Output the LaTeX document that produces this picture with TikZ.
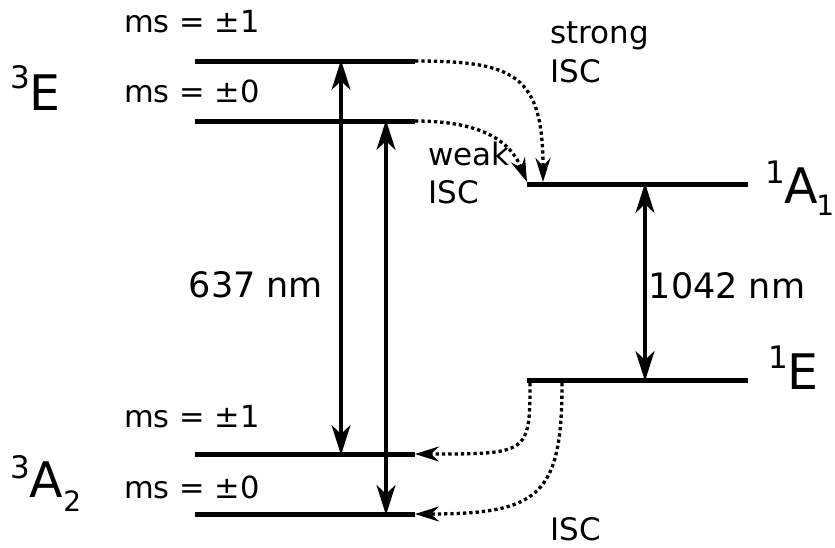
\documentclass[tikz,border=0pt]{standalone}
\usepackage{fontspec}
\setmainfont{DejaVu Sans}
\usetikzlibrary{arrows.meta}
\newcommand\supsz{\fontsize{31}{31}\selectfont}
\newcommand\subsz{\fontsize{28}{28}\selectfont}
\tikzset{
  level/.style={line width=5pt},
  trans/.style={line width=3.2pt,
    {Stealth[length=30pt,width=19pt,inset=9pt]}-{Stealth[length=30pt,width=19pt,inset=9pt]}},
  isc/.style={line width=3.3pt, dash pattern=on 3.3pt off 3pt,
    -{Stealth[length=24pt,width=15pt,inset=8pt]}},
  mslabel/.style={anchor=base west, inner sep=0pt, font=\fontsize{30.5}{36}\selectfont},
  nmlabel/.style={anchor=base, inner sep=0pt, font=\fontsize{35}{42}\selectfont},
  isclabel/.style={anchor=base west, inner sep=0pt, font=\fontsize{31}{36}\selectfont},
  term/.style={anchor=base west, inner sep=0pt, font=\fontsize{49}{55}\selectfont},
}
\begin{document}
\begin{tikzpicture}[x=1pt,y=-1pt]
\useasboundingbox (0,0) rectangle (835,547);
% level end points
\coordinate (e1L) at (195,61);  \coordinate (e1R) at (415,61);
\coordinate (e0L) at (195,121); \coordinate (e0R) at (415,121);
\coordinate (g1L) at (195,454); \coordinate (g1R) at (415,454);
\coordinate (g0L) at (195,514); \coordinate (g0R) at (415,514);
\coordinate (aL) at (527,184);  \coordinate (aR) at (748,184);
\coordinate (sL) at (527,380);  \coordinate (sR) at (748,380);
\draw[level] (e1L) -- (e1R);
\draw[level] (e0L) -- (e0R);
\draw[level] (g1L) -- (g1R);
\draw[level] (g0L) -- (g0R);
\draw[level] (aL) -- (aR);
\draw[level] (sL) -- (sR);
% optical transitions
\coordinate (t1top) at (341,60);  \coordinate (t1bot) at (341,455);
\coordinate (t2top) at (386,120); \coordinate (t2bot) at (386,515);
\coordinate (t3top) at (645,183); \coordinate (t3bot) at (645,381);
\draw[trans] (t1top) -- (t1bot);
\draw[trans] (t2top) -- (t2bot);
\draw[trans] (t3top) -- (t3bot);
% intersystem crossings
\coordinate (strongEnd) at (543,182);
\coordinate (weakEnd) at (527,182);
\coordinate (iscA) at (530,383);
\coordinate (iscB) at (562,383);
\draw[isc] (e1R) .. controls (515,61) and (543,75) .. (strongEnd);
\draw[isc] (e0R) .. controls (480,121) and (510,140) .. (weakEnd);
\draw[isc] (iscA) .. controls (530,454) and (528,454) .. (g1R);
\draw[isc] (iscB) .. controls (562,495) and (540,514) .. (g0R);
% labels
\node[mslabel] (ms1a) at (124,32) {ms = ±1};
\node[mslabel] (ms0a) at (124,102) {ms = ±0};
\node[mslabel] (ms1b) at (124,427) {ms = ±1};
\node[mslabel] (ms0b) at (124,498) {ms = ±0};
\node[nmlabel] (l637) at (256,297) {637 nm};
\node[nmlabel] (l1042) at (727,298) {1042 nm};
\node[isclabel] (strong1) at (550,43) {strong};
\node[isclabel] (strong2) at (550,82) {ISC};
\node[isclabel] (weak1) at (428,165) {weak};
\node[isclabel] (weak2) at (428,203) {ISC};
\node[isclabel] (isc3) at (550,540) {ISC};
\node[term] (t3E) at (10,110) {\raisebox{22pt}{\supsz 3}E};
\node[term] (t3A2) at (10,497) {\raisebox{19pt}{\supsz 3}A\raisebox{-14pt}{\subsz 2}};
\node[term] (t1A1) at (765,203) {\raisebox{20pt}{\supsz 1}A\kern-2pt\raisebox{-12pt}{\subsz 1}};
\node[term] (t1E) at (768,389) {\raisebox{21pt}{\supsz 1}E};
\end{tikzpicture}
\end{document}
